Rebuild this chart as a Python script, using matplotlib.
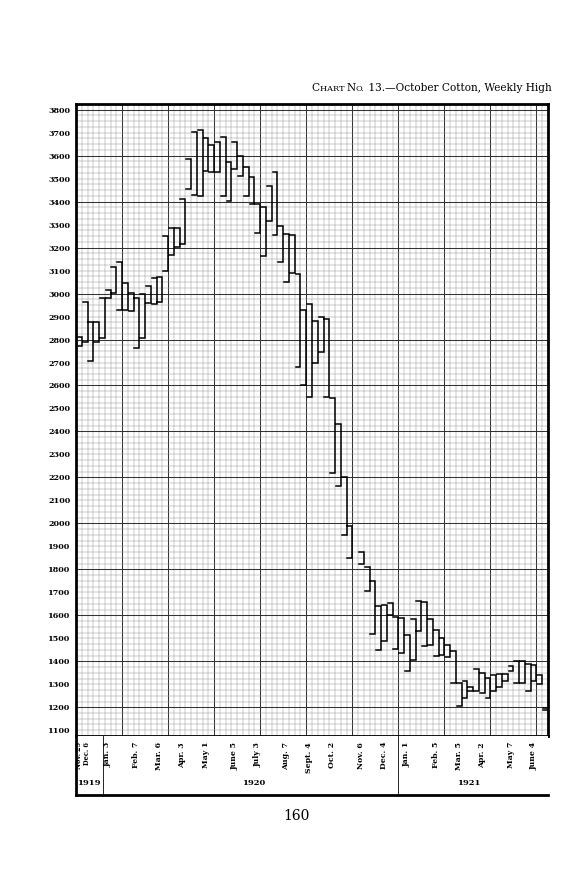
import matplotlib
matplotlib.use("Agg")
import matplotlib.pyplot as plt
import numpy as np

# October cotton, weekly high and low, one entry per week from Nov. 29, 1919
week_low = [2770, 2791, 2705, 2791, 2805, 2980, 3002, 2929, 2929, 2925,
            2762, 2806, 2958, 2953, 2965, 3099, 3168, 3204, 3214, 3455,
            3429, 3426, 3533, 3530, 3530, 3426, 3403, 3542, 3513, 3426,
            3388, 3262, 3165, 3316, 3255, 3139, 3049, 3088, 2680, 2603,
            2552, 2697, 2745, 2552, 2219, 2161, 1951, 1849, np.nan, 1823,
            1704, 1519, 1447, 1487, 1600, 1455, 1437, 1357, 1407, 1531,
            1465, 1473, 1422, 1427, 1420, 1306, 1205, 1241, 1270, 1270,
            1263, 1241, 1270, 1287, 1313, 1357, 1306, 1306, 1270, 1313,
            1302, 1188]
week_high = [2810, 2965, 2878, 2878, 2980, 3016, 3117, 3139, 3045, 3002,
             2980, 3000, 3035, 3067, 3074, 3252, 3284, 3287, 3412, 3586,
             3704, 3712, 3675, 3646, 3660, 3683, 3574, 3661, 3600, 3552,
             3509, 3388, 3378, 3470, 3527, 3296, 3258, 3255, 3084, 2929,
             2953, 2881, 2900, 2890, 2545, 2432, 2204, 1987, np.nan, 1876,
             1809, 1748, 1639, 1646, 1653, 1592, 1589, 1513, 1586, 1661,
             1658, 1586, 1534, 1502, 1470, 1444, 1306, 1313, 1290, 1368,
             1350, 1328, 1339, 1345, 1345, 1378, 1400, 1400, 1389, 1386,
             1339, 1198]

date_labels = ["Nov. 29", "Dec. 6", "Jan. 3", "Feb. 7", "Mar. 6", "Apr. 3",
               "May 1", "June 5", "July 3", "Aug. 7", "Sept. 4", "Oct. 2",
               "Nov. 6", "Dec. 4", "Jan. 1", "Feb. 5", "Mar. 5", "Apr. 2",
               "May 7", "June 4"]
date_weeks = [0, 1, 5, 10, 14, 18, 22, 27, 31, 36, 40, 44, 49, 53, 57, 62,
              66, 70, 75, 79]
years = ["1919", "1920", "1921"]
year_centers = [2.3, 30.8, 68.2]
year_breaks = [4.75, 56.0]

n_weeks = 82
serif = "DejaVu Serif"

fig = plt.figure(figsize=(5.66, 8.81), dpi=100)
ax = fig.add_axes([0.1343, 0.1646, 0.8339, 0.7174])
ax.set_xlim(0, n_weeks)
ax.set_ylim(1075, 3825)

# graph paper: fine cells of one week by 25 points, heavier every 8 cells
for x in range(0, n_weeks + 1):
    heavy = x % 8 == 0
    ax.axvline(x, color="#333333" if heavy else "#959595",
               lw=0.75 if heavy else 0.35, zorder=1)
for y in range(1075, 3826, 25):
    heavy = y % 200 == 0
    ax.axhline(y, color="#333333" if heavy else "#959595",
               lw=0.75 if heavy else 0.35, zorder=1)

# weekly range bars, drawn as "]" brackets
xs, ys = [], []
for i, (lo, hi) in enumerate(zip(week_low, week_high)):
    if np.isnan(lo):
        continue
    xs += [i + 0.15, i + 1, i + 1, i + 0.15, None]
    ys += [hi, hi, lo, lo, None]
ax.plot(xs, ys, color="black", lw=1.1, zorder=3, solid_joinstyle="miter")

ax.set_yticks(np.arange(1100, 3801, 100))
ax.set_yticklabels([str(v) for v in range(1100, 3801, 100)],
                   fontsize=5.8, family=serif, fontweight="bold")
ax.set_xticks([])
ax.tick_params(axis="y", length=0, pad=4)
for s in ax.spines.values():
    s.set_linewidth(2)

# date strip under the chart
bx = fig.add_axes([0.1343, 0.0976, 0.8339, 0.067])
bx.set_xlim(0, n_weeks)
bx.set_ylim(0, 1)
bx.set_xticks([])
bx.set_yticks([])
for side in ["top", "right"]:
    bx.spines[side].set_visible(False)
bx.spines["left"].set_linewidth(2)
bx.spines["bottom"].set_linewidth(2)
for xb in year_breaks:
    bx.axvline(xb, ymin=0.02, ymax=1, color="black", lw=0.6)
for lab, w in zip(date_labels, date_weeks):
    if w < 2:
        # the first two dates share one narrow column
        xpos, size = [0.6, 1.85][w], 4.8
    else:
        xpos, size = w + 0.5, 5.6
    bx.text(xpos, 0.9, lab, rotation=90, ha="center", va="top",
            fontsize=size, family=serif, fontweight="bold")
for yr, xc in zip(years, year_centers):
    bx.text(xc, 0.2, yr, ha="center", va="center", fontsize=6,
            family=serif, fontweight="bold")

# title, with small caps for "Chart No."
r = fig.canvas.get_renderer()
title_y = 0.897
rest = fig.text(0.974, title_y, " 13.\u2014October Cotton, Weekly High",
                ha="right", va="baseline", fontsize=7.6, family=serif)
xr = rest.get_window_extent(r).x0 / fig.bbox.width
for txt, size in [("O.", 5.9), ("N", 7.6), ("HART ", 5.9), ("C", 7.6)]:
    t = fig.text(xr, title_y, txt, ha="right", va="baseline", fontsize=size,
                 family=serif)
    xr = t.get_window_extent(r).x0 / fig.bbox.width

fig.text(0.523, 0.074, "160", ha="center", va="center", fontsize=10,
         family=serif)

fig.savefig("out.png", dpi=100)
